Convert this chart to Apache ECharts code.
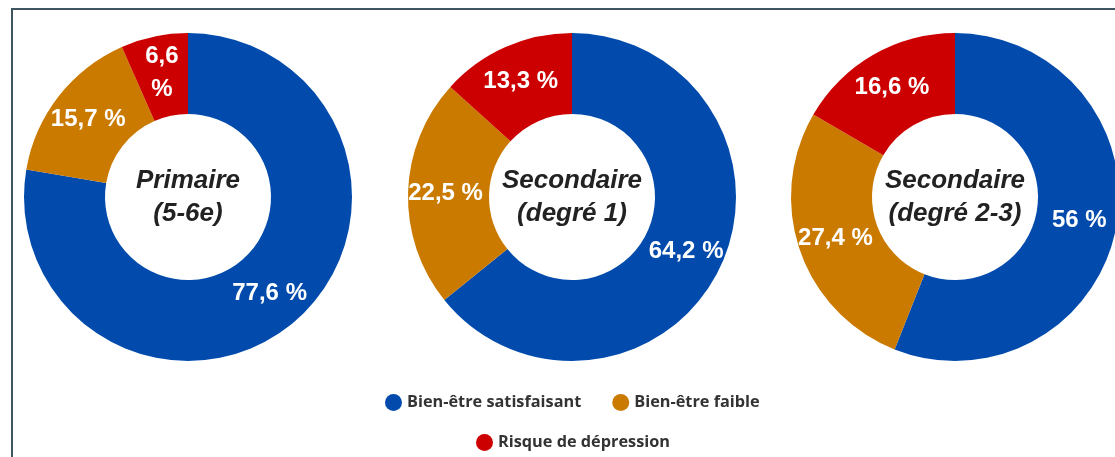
<!DOCTYPE html>
<html>
<head>
<meta charset="utf-8">
<script src="https://cdn.jsdelivr.net/npm/echarts@6/dist/echarts.min.js"></script>
<style>
  html, body { margin: 0; padding: 0; background: #fff; }
  #chart { width: 1115px; height: 457px; }
</style>
</head>
<body>
<div id="chart"></div>
<script>
// catégories et valeurs (%)
const categories = ['Bien-être satisfaisant', 'Bien-être faible', 'Risque de dépression'];
const groups = ['Primaire\n(5-6e)', 'Secondaire\n(degré 1)', 'Secondaire\n(degré 2-3)'];
const primaire = [77.6, 15.7, 6.6];
const secondaire1 = [64.2, 22.5, 13.3];
const secondaire23 = [56, 27.4, 16.6];
const allValues = [primaire, secondaire1, secondaire23];

const colors = ['#024BAC', '#CB7A00', '#CC0000'];
const centersX = [188, 572, 955];
const centerY = 197;

const chart = echarts.init(document.getElementById('chart'));

// étiquette : virgule décimale, retour à la ligne pour les petites parts
function fmt(p) {
    const txt = String(p.value).replace('.', ',');
    return p.value < 10 ? txt + '\n%' : txt + ' %';
}

const series = allValues.map((vals, i) => ({
    name: groups[i],
    type: 'pie',
    center: [centersX[i], centerY],
    radius: [83, 164],
    startAngle: 90,
    clockwise: true,
    avoidLabelOverlap: false,
    silent: true,
    label: {
        show: true,
        position: 'inside',
        formatter: fmt,
        color: '#fff',
        fontFamily: 'Liberation Sans',
        fontWeight: 'bold',
        fontSize: 24,
        lineHeight: 33
    },
    labelLine: { show: false },
    itemStyle: { borderWidth: 0 },
    data: vals.map((v, j) => ({ name: categories[j], value: v }))
}));

const legendText = {
    fontFamily: 'Open Sans',
    fontWeight: 'bold',
    fontSize: 16.3,
    color: '#333'
};

const option = {
    color: colors,
    animation: false,
    legend: [
        {
            data: categories.slice(0, 2),
            left: 385,
            top: 394,
            padding: 0,
            icon: 'circle',
            itemWidth: 17,
            itemHeight: 17,
            itemGap: 31,
            textStyle: legendText
        },
        {
            data: categories.slice(2),
            left: 476,
            top: 434,
            padding: 0,
            icon: 'circle',
            itemWidth: 17,
            itemHeight: 17,
            textStyle: legendText
        }
    ],
    graphic: [
        {
            type: 'rect',
            shape: { x: 12, y: 9, width: 1300, height: 600 },
            style: { fill: 'none', stroke: '#3d5560', lineWidth: 2 },
            silent: true
        }
    ].concat(groups.map((g, i) => ({
        type: 'text',
        x: centersX[i],
        y: centerY,
        style: {
            text: g,
            textAlign: 'center',
            textVerticalAlign: 'middle',
            fill: '#222',
            font: 'italic bold 26px "Liberation Sans"',
            lineHeight: 33
        },
        silent: true
    }))),
    series: series
};

chart.setOption(option);
</script>
</body>
</html>
